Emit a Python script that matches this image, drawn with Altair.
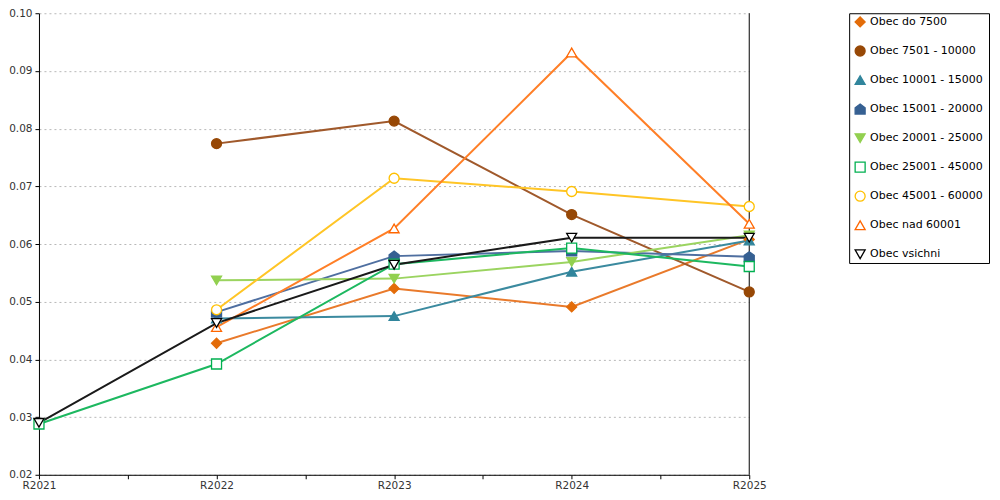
import json
import altair as alt
import pandas as pd

years = ["R2021", "R2022", "R2023", "R2024", "R2025"]

series_names = [
    "Obec do 7500",
    "Obec 7501 - 10000",
    "Obec 10001 - 15000",
    "Obec 15001 - 20000",
    "Obec 20001 - 25000",
    "Obec 25001 - 45000",
    "Obec 45001 - 60000",
    "Obec nad 60001",
    "Obec vsichni",
]

v_do7500 = [None, 0.0428, 0.0523, 0.0491, 0.0608]
v_7501 = [None, 0.0774, 0.0813, 0.0651, 0.0517]
v_10001 = [None, 0.0471, 0.0475, 0.0552, 0.0606]
v_15001 = [None, 0.0482, 0.0579, 0.0588, 0.0578]
v_20001 = [None, 0.0537, 0.0540, 0.0569, 0.0615]
v_25001 = [0.0288, 0.0392, 0.0565, 0.0593, 0.0561]
v_45001 = [None, 0.0486, 0.0714, 0.0691, 0.0665]
v_nad60001 = [None, 0.0456, 0.0627, 0.0932, 0.0635]
v_vsichni = [0.0290, 0.0463, 0.0564, 0.0611, 0.0611]

all_values = [v_do7500, v_7501, v_10001, v_15001, v_20001,
              v_25001, v_45001, v_nad60001, v_vsichni]

marker_colors = ["#E36C09", "#974806", "#31859C", "#366092", "#92D050",
                 "#00B050", "#FFC000", "#FF6600", "#000000"]
line_colors = ["#E97A2B", "#A0592B", "#3B8A9F", "#4F6FA0", "#9BD460",
               "#1DB860", "#FFC526", "#FF7F27", "#1A1A1A"]
HOUSE = "M0,-1L1,-0.25L1,1L-1,1L-1,-0.25Z"
shapes = ["diamond", "circle", "triangle-up", HOUSE, "triangle-down",
          "square", "circle", "triangle-up", "triangle-down"]
fills = ["#E36C09", "#974806", "#31859C", "#366092", "#92D050",
         "white", "white", "white", "white"]

y_ticks = [0.02, 0.03, 0.04, 0.05, 0.06, 0.07, 0.08, 0.09, 0.10]

rows = []
for s, vals in zip(series_names, all_values):
    for k, (yr, v) in enumerate(zip(years, vals)):
        if v is not None:
            rows.append({"series": s, "year": yr, "idx": k, "value": v})
df = pd.DataFrame(rows)

FONT = "DejaVu Sans"
x_ticks = [i * 0.5 for i in range(2 * (len(years) - 1) + 1)]
label_expr = f"datum.value % 1 === 0 ? {json.dumps(years)}[datum.value] : ''"

x_scale = alt.Scale(domain=[0, len(years) - 1], nice=False, zero=False)
y_scale = alt.Scale(domain=[y_ticks[0], y_ticks[-1]], nice=False, zero=False)

shape_scale = alt.Scale(domain=series_names, range=shapes)
fill_scale = alt.Scale(domain=series_names, range=fills)
stroke_scale = alt.Scale(domain=series_names, range=marker_colors)

x_enc = alt.X(
    "idx:Q",
    scale=x_scale,
    axis=alt.Axis(values=x_ticks, labelExpr=label_expr, grid=False, title=None,
                  domainColor="black", tickColor="black", tickSize=4,
                  labelFlush=False, labelOverlap=False, labelFont=FONT,
                  labelFontSize=10.5, labelColor="#333333", labelPadding=2),
)
y_enc = alt.Y("value:Q", scale=y_scale,
              axis=alt.Axis(values=y_ticks, format=".2f", title=None,
                            domainColor="black", tickColor="black", tickSize=4,
                            gridColor="#b8b8b8", gridDash=[2, 3], gridWidth=1,
                            labelFont=FONT, labelFontSize=10.5,
                            labelColor="#333333", labelPadding=3))

# right-hand frame line of the plot area, at the last category
right_edge = alt.Chart(
    pd.DataFrame({"x": [len(years) - 1], "y0": [y_ticks[0]], "y1": [y_ticks[-1]]})
).mark_rule(color="black", strokeWidth=1).encode(
    x=alt.X("x:Q", scale=x_scale), y=alt.Y("y0:Q", scale=y_scale), y2="y1:Q"
)

lines = alt.Chart(df).mark_line(strokeWidth=2).encode(
    x=x_enc,
    y=y_enc,
    color=alt.Color("series:N", scale=alt.Scale(domain=series_names, range=line_colors),
                    legend=None),
    detail="series:N",
)

points = alt.Chart(df).mark_point(size=100, strokeWidth=1.3, opacity=1).encode(
    x=alt.X("idx:Q", scale=x_scale),
    y=alt.Y("value:Q", scale=y_scale),
    shape=alt.Shape("series:N", scale=shape_scale, legend=None),
    fill=alt.Fill("series:N", scale=fill_scale, legend=None),
    stroke=alt.Stroke("series:N", scale=stroke_scale, legend=None),
)

main = alt.layer(lines, right_edge, points).properties(width=711, height=462)

# legend panel
legend_df = pd.DataFrame({"series": series_names})
leg_y = alt.Y("series:N", sort=series_names,
              scale=alt.Scale(domain=series_names, type="point", padding=0.3),
              axis=None)
leg_sym = alt.Chart(legend_df).mark_point(size=100, strokeWidth=1.3, opacity=1).encode(
    x=alt.value(11),
    y=leg_y,
    shape=alt.Shape("series:N", scale=shape_scale, legend=None),
    fill=alt.Fill("series:N", scale=fill_scale, legend=None),
    stroke=alt.Stroke("series:N", scale=stroke_scale, legend=None),
)
leg_txt = alt.Chart(legend_df).mark_text(
    align="left", baseline="middle", font=FONT, fontSize=11, color="black"
).encode(x=alt.value(21), y=leg_y, text="series:N")

legend_panel = alt.layer(leg_sym, leg_txt).properties(
    width=140, height=250,
    view=alt.ViewBackground(stroke="black", strokeWidth=1, fill="white"),
)

chart = (
    alt.hconcat(main, legend_panel, spacing=100, bounds="flush")
    .properties(padding={"left": 0, "top": 0, "right": 2, "bottom": 0})
    .configure_view(stroke=None)
)

chart.save("out.html", embed_options={"renderer": "svg", "actions": False})
